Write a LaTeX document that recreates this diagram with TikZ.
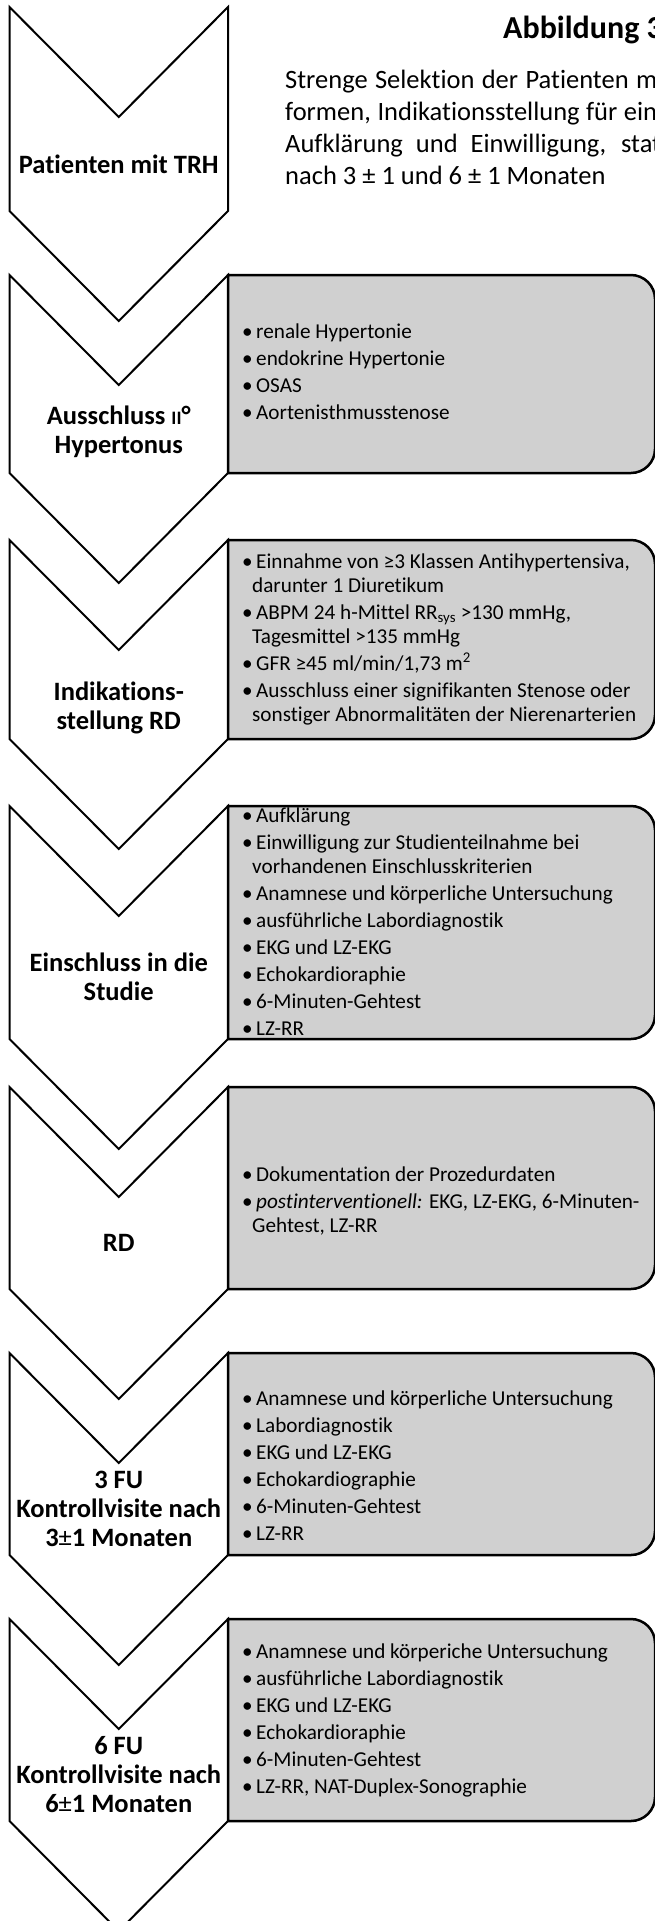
\documentclass[tikz,border=0pt]{standalone}
\usepackage{fontspec}
\setmainfont{Carlito}[Ligatures=NoCommon,Contextuals=NoAlternate]
\definecolor{boxgray}{RGB}{208,208,208}
\newcommand{\bitem}[1]{\makebox[14bp][l]{\textbullet}#1}
\newcommand{\contl}[1]{\hspace*{10bp}#1}
\newcommand{\chev}[2]{\draw[chevstyle] (9.5,#1) -- (118.75,{#1+110}) -- (228,#1) -- (228,#2) -- (118.75,{#2+110}) -- (9.5,#2) -- cycle;}
\newcommand{\infobox}[2]{\draw[infostyle] (228,#1) -- (631,#1) .. controls (644.2,#1) and (655,{#1+10.8}) .. (655,{#1+24}) -- (655,{#2-24}) .. controls (655,{#2-10.8}) and (644.2,#2) .. (631,#2) -- (228,#2) -- cycle;}
\begin{document}
\begin{tikzpicture}[x=1bp,y=-1bp,
  chevstyle/.style={draw=black, line width=2bp, fill=white, line join=miter},
  infostyle/.style={draw=black, line width=2.5bp, fill=boxgray},
  chevlabel/.style={font=\fontsize{26.5bp}{29bp}\selectfont\bfseries, align=center, inner sep=0},
  boxtext/.style={font=\fontsize{21.2bp}{24bp}\selectfont, align=left, inner sep=0, anchor=west},
  para/.style={font=\fontsize{26.5bp}{32bp}\selectfont, inner sep=0, anchor=base west}]
\useasboundingbox (0,0) rectangle (655,1921);
\clip (0,0) rectangle (655,1921);
\fill[white] (0,0) rectangle (655,1921);

% chevrons
\chev{7}{211}
\chev{275}{473}
\chev{540}{739}
\chev{806}{1039}
\chev{1087}{1289}
\chev{1353}{1555}
\chev{1619}{1821}

% boxes
\infobox{275}{473}
\infobox{540}{739}
\infobox{806}{1039}
\infobox{1087}{1289}
\infobox{1353}{1555}
\infobox{1619}{1821}

% title and paragraph
\node[inner sep=0, anchor=base west, font=\fontsize{32bp}{38bp}\selectfont\bfseries] (title) at (503,38) {Abbildung 3};
\node[para] (p1) at (285,88) {\makebox[372bp][s]{Strenge Selektion der Patienten m}};
\node[para] (p2) at (285,120) {\makebox[372bp][s]{formen, Indikationsstellung für ein}};
\node[para] (p3) at (285,152) {\makebox[376bp][s]{Aufklärung und Einwilligung, stat}};
\node[para] (p4) at (285,184) {nach 3 ± 1 und 6 ± 1 Monaten};

% chevron labels
\node[chevlabel] (l1) at (118.75,164) {Patienten mit TRH};
\node[chevlabel] (l2) at (118.75,432) {Ausschluss {\fontsize{19bp}{29bp}\selectfont II}°\\Hypertonus};
\node[chevlabel] (l3) at (118.75,708) {Indikations-\\stellung RD};
\node[chevlabel] (l4) at (118.75,977) {Einschluss in die\\Studie};
\node[chevlabel] (l5) at (118.75,1243) {RD};
\node[chevlabel] (l6) at (118.75,1509) {3 FU\\Kontrollvisite nach\\3{\mdseries ±}1 Monaten};
\node[chevlabel] (l7) at (118.75,1775) {6 FU\\Kontrollvisite nach\\6{\mdseries ±}1 Monaten};

% box texts
\node[boxtext] (t1) at (242,372) {\bitem{renale Hypertonie}\\[3bp]
\bitem{endokrine Hypertonie}\\[3bp]
\bitem{OSAS}\\[3bp]
\bitem{Aortenisthmusstenose}};

\node[boxtext] (t2) at (242,639) {\bitem{Einnahme von ≥3 Klassen Antihypertensiva,}\\
\contl{darunter 1 Diuretikum}\\[3bp]
\bitem{ABPM 24 h-Mittel RR\textsubscript{sys} >130 mmHg,}\\
\contl{Tagesmittel >135 mmHg}\\[3bp]
\bitem{GFR ≥45 ml/min/1,73 m\textsuperscript{2}}\\[3bp]
\bitem{Ausschluss einer signifikanten Stenose oder}\\
\contl{sonstiger Abnormalitäten der Nierenarterien}};

\node[boxtext] (t3) at (242,922) {\bitem{Aufklärung}\\[3bp]
\bitem{Einwilligung zur Studienteilnahme bei}\\
\contl{vorhandenen Einschlusskriterien}\\[3bp]
\bitem{Anamnese und körperliche Untersuchung}\\[3bp]
\bitem{ausführliche Labordiagnostik}\\[3bp]
\bitem{EKG und LZ-EKG}\\[3bp]
\bitem{Echokardioraphie}\\[3bp]
\bitem{6-Minuten-Gehtest}\\[3bp]
\bitem{LZ-RR}};

\node[boxtext] (t4) at (242,1201) {\bitem{Dokumentation der Prozedurdaten}\\[3bp]
\bitem{\textit{postinterventionell:} EKG, LZ-EKG, 6-Minuten-}\\
\contl{Gehtest, LZ-RR}};

\node[boxtext] (t5) at (242,1466) {\bitem{Anamnese und körperliche Untersuchung}\\[3bp]
\bitem{Labordiagnostik}\\[3bp]
\bitem{EKG und LZ-EKG}\\[3bp]
\bitem{Echokardiographie}\\[3bp]
\bitem{6-Minuten-Gehtest}\\[3bp]
\bitem{LZ-RR}};

\node[boxtext] (t6) at (242,1720) {\bitem{Anamnese und körperiche Untersuchung}\\[3bp]
\bitem{ausführliche Labordiagnostik}\\[3bp]
\bitem{EKG und LZ-EKG}\\[3bp]
\bitem{Echokardioraphie}\\[3bp]
\bitem{6-Minuten-Gehtest}\\[3bp]
\bitem{LZ-RR, NAT-Duplex-Sonographie}};
\end{tikzpicture}
\end{document}
